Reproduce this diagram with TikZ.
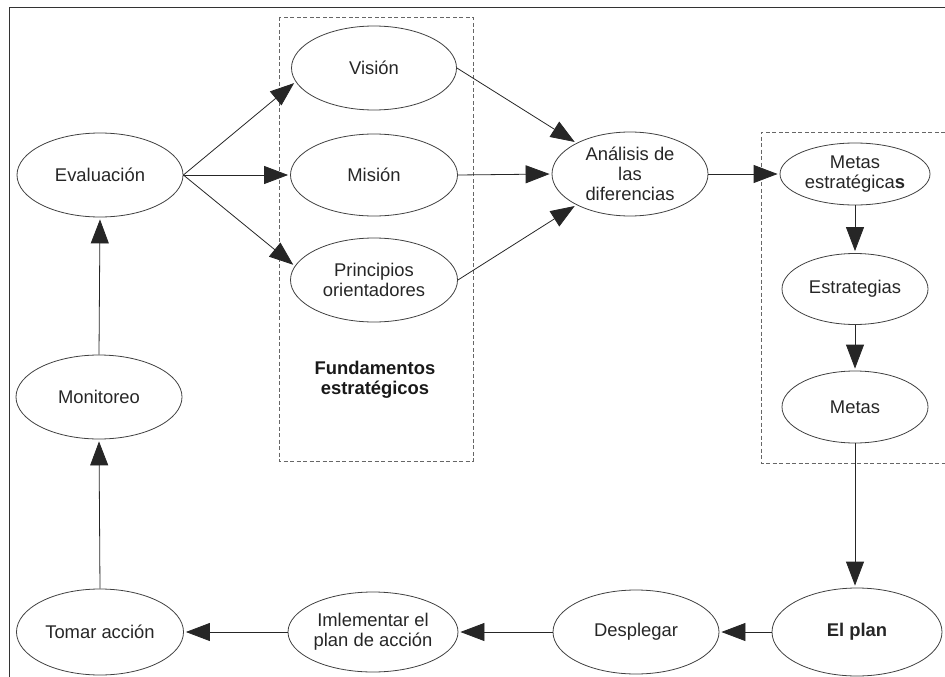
\documentclass[tikz,border=0pt]{standalone}
\usepackage{fontspec}
\setmainfont{Liberation Sans}
\usetikzlibrary{arrows.meta,shapes.geometric}
\begin{document}
\begin{tikzpicture}[x=1pt,y=-1pt,
  bubble/.style={ellipse,draw=black!75,line width=0.8pt,inner sep=0pt,
    align=center,text=black!85,font=\fontsize{18.4}{20}\selectfont},
  flow/.style={draw=black!85,line width=0.8pt,shorten >=2pt,
    -{Triangle[length=24pt,width=18pt]}},
  groupbox/.style={draw=black!60,line width=0.8pt,dash pattern=on 4pt off 2.5pt},
  frame/.style={draw=black!80,line width=1pt}]
\useasboundingbox (0,0) rectangle (945,677);
% outer frame
\draw[frame] (945,8) -- (9,8) -- (9,677);
% grouping boxes
\draw[groupbox] (279,17) rectangle (473,461);
\draw[groupbox] (945,132) -- (761,132) -- (761,463) -- (945,463);
% nodes
\node[bubble,minimum width=166pt,minimum height=84pt] (ev) at (100,175) {Evaluación};
\node[bubble,minimum width=166pt,minimum height=84pt] (mo) at (99,397) {Monitoreo};
\node[bubble,minimum width=167pt,minimum height=86pt] (ta) at (100,632) {Tomar acción};
\node[bubble,minimum width=165pt,minimum height=84pt] (vi) at (374,68) {Visión};
\node[bubble,minimum width=167pt,minimum height=82pt] (mi) at (374,175) {Misión};
\node[bubble,minimum width=167pt,minimum height=84pt] (pr) at (374,280) {Principios\\orientadores};
\node[font=\bfseries\fontsize{18.4}{20}\selectfont,align=center,text=black!90] (fu) at (375,380) {Fundamentos\\estratégicos};
\node[bubble,minimum width=156pt,minimum height=84pt] (an) at (630,174) {Análisis de\\las\\diferencias};
\node[bubble,minimum width=150pt,minimum height=62pt] (me) at (855,174) {Metas\\estratégica\textbf{s}};
\node[bubble,minimum width=146pt,minimum height=71pt] (es) at (855,289) {Estrategias};
\node[bubble,minimum width=146pt,minimum height=72pt] (mt) at (855,407) {Metas};
\node[bubble,minimum width=170pt,minimum height=88pt,font=\bfseries\fontsize{18.4}{20}\selectfont] (pl) at (857,632) {El plan};
\node[bubble,minimum width=166pt,minimum height=84pt] (de) at (636,632) {Desplegar};
\node[bubble,minimum width=170pt,minimum height=80pt] (im) at (373,632) {Imlementar el\\plan de acción};
% connectors
\draw[flow] (ev.east) -- (vi.190);
\draw[flow] (ev.east) -- (mi.west);
\draw[flow] (ev.east) -- (pr.170);
\draw[flow] (vi.east) -- (an.150);
\draw[flow] (mi.east) -- (an.west);
\draw[flow] (pr.east) -- (an.210);
\draw[flow] (an.east) -- (me.west);
\draw[flow] (me.south) -- (es.north);
\draw[flow] (es.south) -- (mt.north);
\draw[flow] (mt.south) -- (mt.south |- pl.north);
\draw[flow] (pl.west) -- (de.east);
\draw[flow] (de.west) -- (im.east);
\draw[flow] (im.west) -- (ta.east);
\draw[flow] (ta.north) -- (mo.south);
\draw[flow] (mo.north) -- (ev.south);
\end{tikzpicture}
\end{document}
